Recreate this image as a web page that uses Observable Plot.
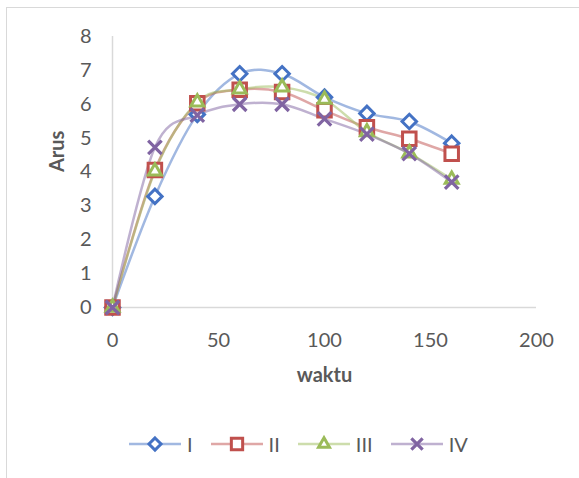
<!DOCTYPE html>
<html>
<head>
<meta charset="utf-8">
<script src="https://cdn.jsdelivr.net/npm/d3@7"></script>
<script src="https://cdn.jsdelivr.net/npm/@observablehq/plot@0.6"></script>
<style>
  html, body { margin: 0; padding: 0; background: #fff; }
  #chart { position: relative; width: 579px; height: 478px; overflow: hidden; font-family: Lato, "Open Sans", sans-serif; }
  #frame { position: absolute; left: 6px; top: 7px; width: 700px; height: 600px; border-left: 1px solid #d9d9d9; border-top: 1px solid #d9d9d9; }
  #plot { position: absolute; left: 0; top: 0; }
  #legend { position: absolute; left: 129px; top: 432px; display: flex; align-items: center; color: #595959; font-size: 20px; }
  .item { display: flex; align-items: center; margin-right: 18px; }
  .item svg { display: block; margin-right: 6px; }
</style>
</head>
<body>
<div id="chart">
  <div id="frame"></div>
  <div id="plot"></div>
  <div id="legend"></div>
</div>
<script>
// Measurement times and current readings for the four runs
const waktu = [0, 20, 40, 60, 80, 100, 120, 140, 160];
const arusI   = [0, 3.28, 5.7, 6.9, 6.9, 6.21, 5.73, 5.49, 4.85];
const arusII  = [0, 4.06, 6.03, 6.43, 6.36, 5.82, 5.32, 4.98, 4.54];
const arusIII = [0, 4.02, 6.06, 6.44, 6.5, 6.14, 5.18, 4.55, 3.78];
const arusIV  = [0, 4.73, 5.68, 6.0, 6.0, 5.57, 5.12, 4.54, 3.7];

const seriesNames = ["I", "II", "III", "IV"];
const xTicks = [0, 50, 100, 150, 200];
const yTicks = [0, 1, 2, 3, 4, 5, 6, 7, 8];

const series = [
  {name: seriesNames[0], values: arusI,   color: "#4472C4", symbol: "diamond2",  d3sym: d3.symbolDiamond2,  r: 6.5, sw: 3},
  {name: seriesNames[1], values: arusII,  color: "#C0504D", symbol: "square2",   d3sym: d3.symbolSquare2,   r: 8.6, sw: 3},
  {name: seriesNames[2], values: arusIII, color: "#9BBB59", symbol: "triangle2", d3sym: d3.symbolTriangle2, r: 6.2, sw: 3},
  {name: seriesNames[3], values: arusIV,  color: "#8064A2", symbol: "times",     d3sym: d3.symbolTimes,     r: 6.2, sw: 3.2}
];

const rowsOf = s => waktu.map((w, i) => ({waktu: w, arus: s.values[i], seri: s.name}));

const marks = [
  Plot.ruleX([0], {stroke: "#d9d9d9", strokeWidth: 1.5}),
  Plot.ruleY([0], {stroke: "#d9d9d9", strokeWidth: 1.5}),
  Plot.axisX({ticks: xTicks, tickSize: 0, tickPadding: 25, label: null}),
  Plot.axisY({ticks: yTicks, tickSize: 0, tickPadding: 21, label: null}),
  Plot.text(["waktu"], {frameAnchor: "bottom", lineAnchor: "middle", dy: 68, fontWeight: "bold", fontSize: 20, fill: "#595959"}),
  Plot.text(["Arus"], {frameAnchor: "left", lineAnchor: "middle", dx: -55, rotate: -90, fontWeight: "bold", fontSize: 20, fill: "#595959"})
];

for (const s of series) {
  const rows = rowsOf(s);
  marks.push(Plot.line(rows, {x: "waktu", y: "arus", curve: "cardinal", stroke: s.color, strokeOpacity: 0.5, strokeWidth: 2.5}));
}
for (const s of series) {
  const rows = rowsOf(s);
  marks.push(Plot.dot(rows, {x: "waktu", y: "arus", symbol: s.symbol, r: s.r, stroke: s.color, strokeWidth: s.sw, fill: "white"}));
}

const chart = Plot.plot({
  width: 579,
  height: 400,
  marginLeft: 112,
  marginRight: 43,
  marginTop: 36,
  marginBottom: 93,
  style: {fontFamily: "Lato, 'Open Sans', sans-serif", fontSize: "20px", color: "#595959", background: "transparent", overflow: "visible"},
  x: {domain: [0, 200]},
  y: {domain: [0, 8]},
  marks
});
document.getElementById("plot").appendChild(chart);

// Legend: line segment with the series marker, then its name
const legend = d3.select("#legend");
for (const s of series) {
  const item = legend.append("div").attr("class", "item");
  const svg = item.append("svg").attr("width", 52).attr("height", 22);
  svg.append("line").attr("x1", 0).attr("x2", 52).attr("y1", 11).attr("y2", 11)
    .attr("stroke", s.color).attr("stroke-opacity", 0.5).attr("stroke-width", 2.5);
  svg.append("path").attr("transform", "translate(26,11)")
    .attr("d", d3.symbol(s.d3sym, Math.PI * s.r * s.r * 0.7)())
    .attr("fill", "white").attr("stroke", s.color).attr("stroke-width", s.sw);
  item.append("span").text(s.name);
}
</script>
</body>
</html>
